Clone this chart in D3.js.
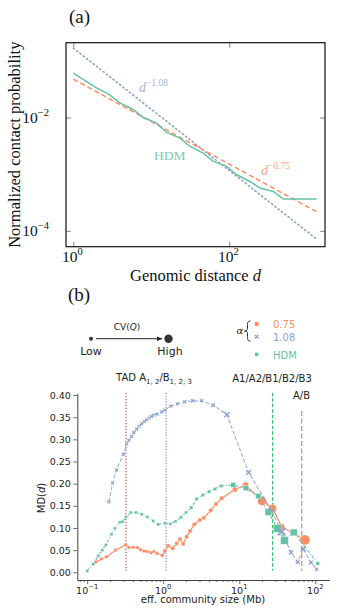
<!DOCTYPE html>
<html>
<head>
<title>contact probability and MD(d)</title>
<script src="https://d3js.org/d3.v7.min.js"></script>
<style>
  body { margin: 0; background: #fff; }
  svg { display: block; }
</style>
</head>
<body>
<svg width="339" height="616"></svg>
<script>
// ---------- panel (a) data ----------
var fitDist = [1, 1320];
var fitSteep = [0.1675, 0.0000714];
var fitShallow = [0.0475, 0.000217];    // d^-0.75
var hdmDist = [1, 2, 2.8, 4, 5.9, 7.9, 11.7, 15.7, 23.3, 31.3, 46.4, 62.4, 92.5, 124, 184, 247, 367, 492, 1320];
var hdmProb = [0.0607, 0.033, 0.0262, 0.0179, 0.0137, 0.01, 0.00797, 0.00544, 0.00433, 0.00308, 0.00235,
               0.00168, 0.00137, 0.000975, 0.000743, 0.000568, 0.000495, 0.000363, 0.000363];
var aXTicks = [1, 100];
var aXExp = ["0", "2"];
var aYTicks = [1e-2, 1e-4];
var aYExp = ["\u22122", "\u22124"];

// ---------- panel (b) data ----------
var orangeSize = [0.130, 0.154, 0.180, 0.237, 0.320, 0.354, 0.403, 0.455, 0.501, 0.557, 0.615, 0.689, 0.755, 0.826,
                  0.970, 1.05, 1.16, 1.33, 1.50, 1.66, 1.83, 2.03, 2.25, 2.56, 3.04, 3.43, 4.21, 4.94, 5.87, 8.78,
                  12.1, 19.9, 27.5, 36.1, 73.1];
var orangeMD = [0.023, 0.030, 0.035, 0.050, 0.062, 0.056, 0.056, 0.056, 0.051, 0.048, 0.047, 0.044, 0.047, 0.043,
                0.038, 0.048, 0.060, 0.054, 0.065, 0.075, 0.064, 0.080, 0.093, 0.108, 0.118, 0.123, 0.140, 0.154,
                0.167, 0.187, 0.197, 0.161, 0.144, 0.103, 0.073];
var orangeCV = [0.03, 0.03, 0.03, 0.03, 0.03, 0.03, 0.03, 0.03, 0.03, 0.03, 0.03, 0.03, 0.03, 0.03,
                0.05, 0.1, 0.1, 0.1, 0.1, 0.1, 0.1, 0.12, 0.12, 0.12, 0.12, 0.12, 0.12, 0.12,
                0.15, 0.24, 0.41, 0.79, 0.65, 0.35, 0.94];

var blueSize = [0.193, 0.216, 0.244, 0.298, 0.330, 0.354, 0.384, 0.411, 0.447, 0.483, 0.520, 0.562, 0.604, 0.655,
                0.703, 0.755, 0.834, 0.953, 1.05, 1.25, 1.53, 1.93, 2.44, 3.2, 4.55, 6.86, 13.3, 26.3, 36.1,
                47.9, 58.7, 69.5, 87.8, 104];
var blueMD = [0.159, 0.201, 0.231, 0.266, 0.289, 0.298, 0.307, 0.315, 0.323, 0.330, 0.335, 0.340, 0.344, 0.348,
              0.352, 0.355, 0.357, 0.362, 0.366, 0.375, 0.380, 0.385, 0.387, 0.387, 0.377, 0.356, 0.225, 0.140,
              0.092, 0.045, 0.023, 0.053, 0.022, 0.007];
var blueCV = [0.05, 0.05, 0.05, 0.05, 0.05, 0.05, 0.05, 0.05, 0.05, 0.05, 0.05, 0.05, 0.05, 0.05,
              0.05, 0.05, 0.05, 0.05, 0.05, 0.05, 0.05, 0.1, 0.1, 0.1, 0.2, 0.45, 0.4, 0.35,
              0.85, 0.3, 0.2, 0.45, 0.2, 0.1];

var greenSize = [0.100, 0.120, 0.140, 0.158, 0.176, 0.209, 0.231, 0.269, 0.292, 0.323, 0.376, 0.438, 0.520, 0.615,
                 0.738, 0.859, 1.05, 1.24, 1.45, 1.71, 1.99, 2.34, 2.75, 3.30, 3.99, 4.79, 5.74, 8.34, 12.2,
                 17.8, 24.2, 31.6, 39.3, 52.0, 107.6];
var greenMD = [0.003, 0.019, 0.037, 0.050, 0.062, 0.086, 0.099, 0.113, 0.114, 0.125, 0.135, 0.135, 0.131, 0.125,
               0.116, 0.108, 0.111, 0.109, 0.115, 0.124, 0.135, 0.146, 0.165, 0.174, 0.182, 0.188, 0.195, 0.197,
               0.190, 0.172, 0.136, 0.099, 0.072, 0.090, 0.020];
var greenCV = [0, 0, 0, 0, 0, 0, 0, 0, 0, 0, 0, 0, 0, 0,
               0, 0, 0, 0, 0, 0, 0, 0.05, 0.05, 0.05, 0.05, 0.05, 0.05, 0.35, 0.4,
               0.4, 0.65, 0.8, 0.8, 0.65, 0.1];

var bXTicks = [0.1, 1, 10, 100];
var bXExp = ["\u22121", "0", "1", "2"];
var bYTicks = [0, 0.05, 0.10, 0.15, 0.20, 0.25, 0.30, 0.35, 0.40];
var scaleLines = [0.323, 1.09, 27.5, 66.2];
var scaleLineTop = [0.405, 0.405, 0.405, 0.364];

// colours
var cOrange = "#fc8d62", cBlue = "#8da0cb", cGreen = "#66c2a5";
var serif = "'Liberation Serif', 'DejaVu Serif', serif";
var sans = "'DejaVu Sans', sans-serif";

var svg = d3.select("svg");

// ================= panel (a) =================
var xA = d3.scaleLog().domain([Math.pow(10, -0.094), Math.pow(10, 3.227)]).range([66, 325]);
var yA = d3.scaleLog().domain([Math.pow(10, -4.28), Math.pow(10, -0.68)]).range([246.7, 42.7]);

var pa = svg.append("g");

// inward ticks on all four sides
pa.append("g").attr("transform", "translate(0,246.7)")
  .call(d3.axisBottom(xA).tickValues(aXTicks).tickSizeInner(-5).tickSizeOuter(0).tickFormat(""));
pa.append("g").attr("transform", "translate(0,42.7)")
  .call(d3.axisTop(xA).tickValues(aXTicks).tickSizeInner(-5).tickSizeOuter(0).tickFormat(""));
pa.append("g").attr("transform", "translate(66,0)")
  .call(d3.axisLeft(yA).tickValues(aYTicks).tickSizeInner(-5).tickSizeOuter(0).tickFormat(""));
pa.append("g").attr("transform", "translate(325,0)")
  .call(d3.axisRight(yA).tickValues(aYTicks).tickSizeInner(-5).tickSizeOuter(0).tickFormat(""));
pa.selectAll(".domain").remove();
pa.selectAll(".tick line").attr("stroke", "#666").attr("stroke-width", 0.8);

var lineA = d3.line().x(function(d) { return xA(d[0]); }).y(function(d) { return yA(d[1]); });

pa.append("path").datum(d3.zip(fitDist, fitSteep)).attr("d", lineA)
  .attr("fill", "none").attr("stroke", cBlue).attr("stroke-width", 1.6)
  .attr("stroke-dasharray", "1.2,3").attr("stroke-linecap", "round");
pa.append("path").datum(d3.zip(fitDist, fitShallow)).attr("d", lineA)
  .attr("fill", "none").attr("stroke", cOrange).attr("stroke-width", 1.5)
  .attr("stroke-dasharray", "5,3");
pa.append("path").datum(d3.zip(hdmDist, hdmProb)).attr("d", lineA)
  .attr("fill", "none").attr("stroke", cGreen).attr("stroke-width", 1.5);

pa.append("rect").attr("x", 66).attr("y", 42.7).attr("width", 259).attr("height", 204)
  .attr("fill", "none").attr("stroke", "#111").attr("stroke-width", 1.2);

// tick labels
aXTicks.forEach(function(v, i) {
  var t = pa.append("text").attr("x", xA(v) - 1).attr("y", 261.5)
    .attr("text-anchor", "middle").attr("font-family", serif).attr("font-size", 15.5).attr("fill", "#111");
  t.append("tspan").text("10");
  t.append("tspan").attr("dy", -7).attr("font-size", 10.5).text(aXExp[i]);
});
aYTicks.forEach(function(v, i) {
  var t = pa.append("text").attr("x", 49).attr("y", yA(v) + 5.3)
    .attr("text-anchor", "end").attr("font-family", serif).attr("font-size", 15.5).attr("fill", "#111");
  t.append("tspan").text("10");
  t.append("tspan").attr("dy", -7).attr("font-size", 10.5).text(aYExp[i]);
});

pa.append("text").attr("x", 195.5).attr("y", 281).attr("text-anchor", "middle")
  .attr("font-family", serif).attr("font-size", 16.5).attr("fill", "#111")
  .html("Genomic distance <tspan font-style='italic'>d</tspan>");
pa.append("text").attr("transform", "translate(20,144.7) rotate(-90)").attr("text-anchor", "middle")
  .attr("font-family", serif).attr("font-size", 16.5).attr("fill", "#111")
  .text("Normalized contact probability");

// curve labels
var lab1 = pa.append("text").attr("x", 139).attr("y", 91.5).attr("font-family", serif)
  .attr("font-size", 14).attr("fill", cBlue).attr("opacity", 0.8);
lab1.append("tspan").attr("font-style", "italic").text("d");
lab1.append("tspan").attr("dy", -6).attr("font-size", 9.5).text("\u22121.08");
pa.append("text").attr("x", 154).attr("y", 160).attr("font-family", serif)
  .attr("font-size", 13.5).attr("fill", cGreen).attr("opacity", 0.85).text("HDM");
var lab2 = pa.append("text").attr("x", 261).attr("y", 175).attr("font-family", serif)
  .attr("font-size", 14).attr("fill", cOrange).attr("opacity", 0.8);
lab2.append("tspan").attr("font-style", "italic").text("d");
lab2.append("tspan").attr("dy", -6).attr("font-size", 9.5).text("\u22120.75");

svg.append("text").attr("x", 69).attr("y", 23).attr("font-family", serif).attr("font-size", 19).attr("fill", "#111").text("(a)");
svg.append("text").attr("x", 68).attr("y", 301).attr("font-family", serif).attr("font-size", 19).attr("fill", "#111").text("(b)");

// ================= panel (b) =================
var xB = d3.scaleLog().domain([Math.pow(10, -1.13), Math.pow(10, 2.184)]).range([77.3, 329.3]);
var yB = d3.scaleLinear().domain([-0.0174, 0.404]).range([580, 393.3]);
var mark = d3.scaleLinear().domain([0, 1]).range([1.7, 5.2]);
var pb = svg.append("g").attr("font-family", sans);

var yAxB = pb.append("g").attr("transform", "translate(77.3,0)")
  .call(d3.axisLeft(yB).tickValues(bYTicks).tickFormat(d3.format(".2f")).tickSize(4).tickPadding(2.5).tickSizeOuter(0));
var minor = [];
[-2, -1, 0, 1, 2].forEach(function(e) {
  for (var k = 2; k < 10; k++) {
    var v = k * Math.pow(10, e);
    if (v > xB.domain()[0] && v < xB.domain()[1]) minor.push(v);
  }
});
var xAxB = pb.append("g").attr("transform", "translate(0,580)")
  .call(d3.axisBottom(xB).tickValues(bXTicks).tickFormat("").tickSize(4).tickSizeOuter(0));
pb.append("g").attr("transform", "translate(0,580)")
  .call(d3.axisBottom(xB).tickValues(minor).tickFormat("").tickSize(2).tickSizeOuter(0))
  .select(".domain").remove();
pb.selectAll(".domain").attr("stroke", "#444").attr("stroke-width", 1);
pb.selectAll(".tick line").attr("stroke", "#444").attr("stroke-width", 0.8);
yAxB.selectAll("text").attr("font-family", sans).attr("font-size", 9.5).attr("fill", "#222");

bXTicks.forEach(function(v, i) {
  var t = pb.append("text").attr("x", xB(v)).attr("y", 593.5).attr("text-anchor", "middle")
    .attr("font-size", 9.5).attr("fill", "#222");
  t.append("tspan").text("10");
  t.append("tspan").attr("dy", -4.5).attr("font-size", 6.8).text(bXExp[i]);
});

pb.append("text").attr("x", 203).attr("y", 603).attr("text-anchor", "middle")
  .attr("font-size", 10).attr("fill", "#222").text("eff. community size (Mb)");
pb.append("text").attr("transform", "translate(45,498) rotate(-90)").attr("text-anchor", "middle")
  .attr("font-size", 10).attr("fill", "#222")
  .html("MD(<tspan font-style='italic'>d</tspan>)");

// scale markers (vertical lines)
var vStroke = ["#e8534f", "#8e84d6", "#33b864", "#e9865a"];
var vDash = ["1.5,1.5", "1.2,1.6", "3.5,2", "5,2.5"];
pb.selectAll("line.vmark").data(scaleLines).enter().append("line")
  .attr("class", "vmark")
  .attr("x1", function(d) { return xB(d); }).attr("x2", function(d) { return xB(d); })
  .attr("y1", function(d, i) { return yB(scaleLineTop[i]); }).attr("y2", yB(0.0036))
  .attr("stroke", function(d, i) { return vStroke[i]; })
  .attr("stroke-dasharray", function(d, i) { return vDash[i]; })
  .attr("stroke-width", 1.2);

var tad = pb.append("text").attr("x", 154).attr("y", 381).attr("text-anchor", "middle")
  .attr("font-size", 10).attr("fill", "#222");
tad.append("tspan").text("TAD A");
tad.append("tspan").attr("dy", 2.5).attr("font-size", 7).text("1, 2");
tad.append("tspan").attr("dy", -2.5).text("/B");
tad.append("tspan").attr("dy", 2.5).attr("font-size", 7).text("1, 2, 3");
pb.append("text").attr("x", 272).attr("y", 381.5).attr("text-anchor", "middle")
  .attr("font-size", 10).attr("fill", "#222").text("A1/A2/B1/B2/B3");
pb.append("text").attr("x", 301.5).attr("y", 399).attr("text-anchor", "middle")
  .attr("font-size", 10).attr("fill", "#222").text("A/B");

var lineB = d3.line().x(function(d) { return xB(d[0]); }).y(function(d) { return yB(d[1]); });

// alpha = 0.75
pb.append("path").datum(d3.zip(orangeSize, orangeMD)).attr("d", lineB)
  .attr("fill", "none").attr("stroke", cOrange).attr("stroke-width", 1.2);
pb.selectAll("circle.o").data(d3.zip(orangeSize, orangeMD, orangeCV)).enter().append("circle")
  .attr("class", "o")
  .attr("cx", function(d) { return xB(d[0]); }).attr("cy", function(d) { return yB(d[1]); })
  .attr("r", function(d) { return mark(d[2]); })
  .attr("fill", cOrange).attr("stroke", "#fff").attr("stroke-width", 0.3);

// HDM
pb.append("path").datum(d3.zip(greenSize, greenMD)).attr("d", lineB)
  .attr("fill", "none").attr("stroke", cGreen).attr("stroke-width", 1.1)
  .attr("stroke-dasharray", "3,1.5,1,1.5");
pb.selectAll("rect.g").data(d3.zip(greenSize, greenMD, greenCV)).enter().append("rect")
  .attr("class", "g")
  .attr("x", function(d) { return xB(d[0]) - mark(d[2]) * 0.85; })
  .attr("y", function(d) { return yB(d[1]) - mark(d[2]) * 0.85; })
  .attr("width", function(d) { return mark(d[2]) * 1.7; })
  .attr("height", function(d) { return mark(d[2]) * 1.7; })
  .attr("fill", cGreen).attr("stroke", "#fff").attr("stroke-width", 0.3);

// alpha = 1.08
pb.append("path").datum(d3.zip(blueSize, blueMD)).attr("d", lineB)
  .attr("fill", "none").attr("stroke", cBlue).attr("stroke-width", 1.1)
  .attr("stroke-dasharray", "4,2").attr("opacity", 0.85);
function crossPath(cx, cy, h) {
  return "M" + (cx - h) + "," + (cy - h) + "L" + (cx + h) + "," + (cy + h) +
         "M" + (cx - h) + "," + (cy + h) + "L" + (cx + h) + "," + (cy - h);
}
pb.selectAll("path.b").data(d3.zip(blueSize, blueMD, blueCV)).enter().append("path")
  .attr("class", "b")
  .attr("d", function(d) { return crossPath(xB(d[0]), yB(d[1]), mark(d[2]) * 0.8); })
  .attr("stroke", cBlue).attr("stroke-width", function(d) { return 1 + d[2]; }).attr("fill", "none");

// ---------- legend ----------
var lg = svg.append("g").attr("font-family", sans);
lg.append("defs").append("marker").attr("id", "arr").attr("viewBox", "0 0 10 10")
  .attr("refX", 9).attr("refY", 5).attr("markerWidth", 6).attr("markerHeight", 6).attr("orient", "auto")
  .append("path").attr("d", "M0,1L10,5L0,9z").attr("fill", "#222");
lg.append("circle").attr("cx", 91).attr("cy", 338.7).attr("r", 2).attr("fill", "#333");
lg.append("line").attr("x1", 96).attr("x2", 162).attr("y1", 338.7).attr("y2", 338.7)
  .attr("stroke", "#222").attr("stroke-width", 1).attr("marker-end", "url(#arr)");
lg.append("circle").attr("cx", 168.5).attr("cy", 338.7).attr("r", 4.2).attr("fill", "#333");
lg.append("text").attr("x", 127).attr("y", 330).attr("text-anchor", "middle").attr("font-size", 9)
  .attr("fill", "#222").html("CV(<tspan font-style='italic'>Q</tspan>)");
lg.append("text").attr("x", 91).attr("y", 354.5).attr("text-anchor", "middle").attr("font-size", 11)
  .attr("fill", "#222").text("Low");
lg.append("text").attr("x", 170).attr("y", 354.5).attr("text-anchor", "middle").attr("font-size", 11)
  .attr("fill", "#222").text("High");

lg.append("text").attr("x", 240).attr("y", 333.5).attr("text-anchor", "middle")
  .attr("font-family", "'DejaVu Serif', serif").attr("font-style", "italic").attr("font-size", 10)
  .attr("fill", "#222").text("\u03b1");
lg.append("path")
  .attr("d", "M250.5,321 C247.5,321 247.5,323 247.5,325.5 L247.5,328.5 C247.5,330 246.5,331 244.5,331 " +
             "C246.5,331 247.5,332 247.5,333.5 L247.5,336.5 C247.5,339 247.5,341 250.5,341")
  .attr("fill", "none").attr("stroke", "#222").attr("stroke-width", 1);
lg.append("circle").attr("cx", 256.7).attr("cy", 324).attr("r", 2.2).attr("fill", cOrange);
lg.append("path").attr("d", crossPath(256.7, 336.7, 1.8)).attr("stroke", cBlue).attr("stroke-width", 1.3);
lg.append("rect").attr("x", 255).attr("y", 352.6).attr("width", 3.4).attr("height", 3.4).attr("fill", cGreen);
lg.append("text").attr("x", 273).attr("y", 327.5).attr("font-size", 10).attr("fill", cOrange).text("0.75");
lg.append("text").attr("x", 273).attr("y", 340.5).attr("font-size", 10).attr("fill", cBlue).text("1.08");
lg.append("text").attr("x", 273).attr("y", 358.5).attr("font-size", 10).attr("fill", cGreen).text("HDM");
</script>
</body>
</html>
